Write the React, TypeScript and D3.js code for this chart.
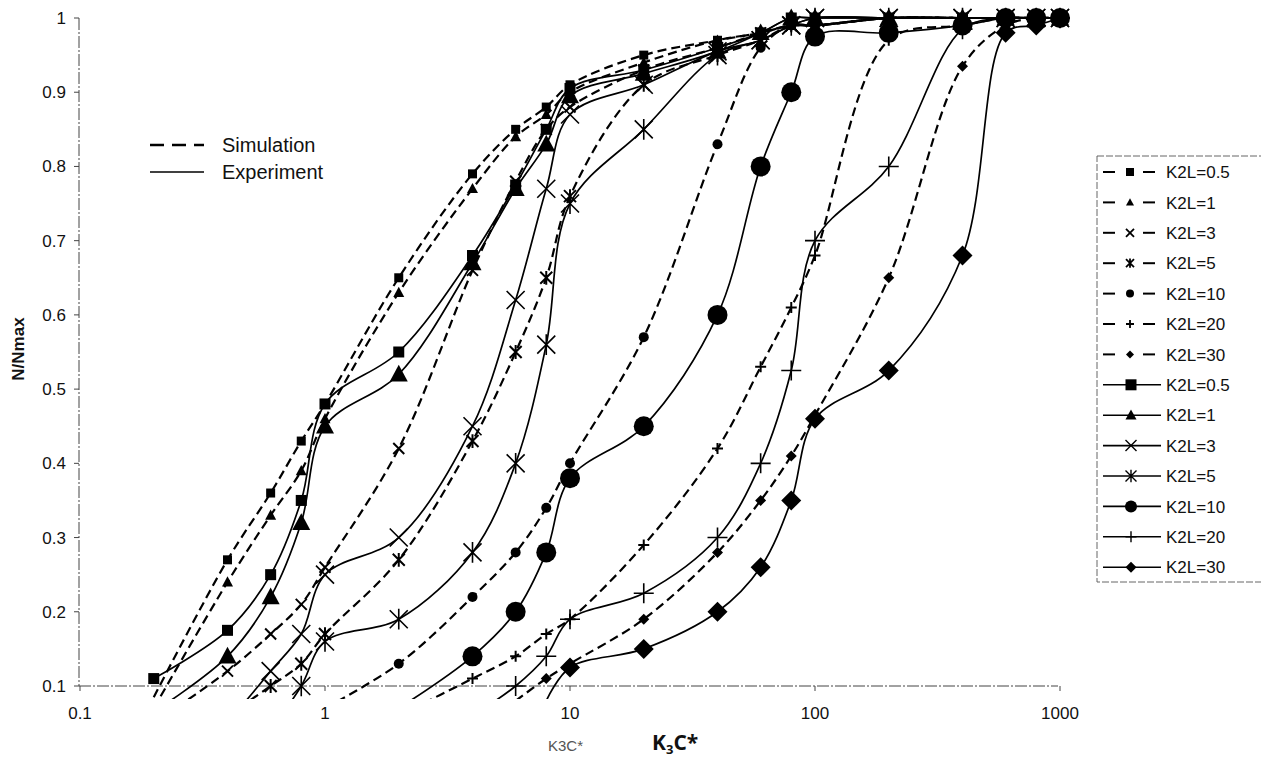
import React from 'react';
import * as d3 from 'd3';

const W = 1261;
const H = 757;
const FONT = '"Liberation Sans", Arial, sans-serif';

// K3C* values where the points sit (log axis)
const kValues = [0.2, 0.4, 0.6, 0.8, 1, 2, 4, 6, 8, 10, 20, 40, 60, 80, 100, 200, 400, 600, 800, 1000];

// simulation, N/Nmax (null = no point)
const simK05 = [0.085, 0.27, 0.36, 0.43, 0.48, 0.65, 0.79, 0.85, 0.88, 0.91, 0.95, 0.97, 0.98, 0.99, 0.99, 1.0, 1.0, 1.0, 1.0, 1.0];
const simK1 = [0.07, 0.24, 0.33, 0.39, 0.46, 0.63, 0.77, 0.84, 0.87, 0.9, 0.94, 0.97, 0.98, 0.99, 0.99, 1.0, 1.0, 1.0, 1.0, 1.0];
const simK3 = [0.05, 0.12, 0.17, 0.21, 0.26, 0.42, 0.66, 0.78, 0.85, 0.88, 0.93, 0.96, 0.98, 0.99, 0.99, 1.0, 1.0, 1.0, 1.0, 1.0];
const simK5 = [null, 0.06, 0.1, 0.13, 0.17, 0.27, 0.43, 0.55, 0.65, 0.76, 0.91, 0.95, 0.97, 0.99, 0.99, 1.0, 1.0, 1.0, 1.0, 1.0];
const simK10 = [null, null, null, null, 0.07, 0.13, 0.22, 0.28, 0.34, 0.4, 0.57, 0.83, 0.96, 0.99, 0.99, 1.0, 1.0, 1.0, 1.0, 1.0];
const simK20 = [null, null, null, null, null, 0.06, 0.11, 0.14, 0.17, 0.19, 0.29, 0.42, 0.53, 0.61, 0.68, 0.97, 0.99, 1.0, 1.0, 1.0];
const simK30 = [null, null, null, null, null, null, null, 0.08, 0.11, 0.13, 0.19, 0.28, 0.35, 0.41, 0.465, 0.65, 0.935, 0.99, 1.0, 1.0];

// experiment, N/Nmax
const expK05 = [0.11, 0.175, 0.25, 0.35, 0.48, 0.55, 0.68, 0.775, 0.85, 0.905, 0.93, 0.96, 0.98, 1.0, 1.0, 1.0, 1.0, 1.0, 1.0, 1.0];
const expK1 = [0.065, 0.14, 0.22, 0.32, 0.45, 0.52, 0.67, 0.77, 0.83, 0.895, 0.925, 0.955, 0.98, 1.0, 1.0, 1.0, 1.0, 1.0, 1.0, 1.0];
const expK3 = [null, 0.05, 0.12, 0.17, 0.25, 0.3, 0.45, 0.62, 0.77, 0.87, 0.91, 0.955, 0.97, 0.99, 1.0, 1.0, 1.0, 1.0, 1.0, 1.0];
const expK5 = [null, null, 0.04, 0.1, 0.16, 0.19, 0.28, 0.4, 0.56, 0.75, 0.85, 0.95, 0.97, 0.99, 1.0, 1.0, 1.0, 1.0, 1.0, 1.0];
const expK10 = [null, null, null, null, null, 0.07, 0.14, 0.2, 0.28, 0.38, 0.45, 0.6, 0.8, 0.9, 0.975, 0.98, 0.99, 1.0, 1.0, 1.0];
const expK20 = [null, null, null, null, null, null, 0.06, 0.1, 0.14, 0.19, 0.225, 0.3, 0.4, 0.525, 0.7, 0.8, 0.985, 1.0, 1.0, 1.0];
const expK30 = [null, null, null, null, null, null, null, null, 0.08, 0.125, 0.15, 0.2, 0.26, 0.35, 0.46, 0.525, 0.68, 0.98, 0.99, 1.0];

const seriesLabels = ['K2L=0.5', 'K2L=1', 'K2L=3', 'K2L=5', 'K2L=10', 'K2L=20', 'K2L=30'];
const markerTypes = ['square', 'triangle', 'cross', 'star', 'circle', 'plus', 'diamond'];
const simValues = [simK05, simK1, simK3, simK5, simK10, simK20, simK30];
const expValues = [expK05, expK1, expK3, expK5, expK10, expK20, expK30];

const yTicks = [0.1, 0.2, 0.3, 0.4, 0.5, 0.6, 0.7, 0.8, 0.9, 1];
const xTicks = [0.1, 1, 10, 100, 1000];

// marker sizes: [simulation, experiment]
const markerSize: Record<string, number[]> = {
  square: [9, 11],
  triangle: [11, 18],
  cross: [11, 18],
  star: [12, 18],
  circle: [10, 20],
  plus: [11, 20],
  diamond: [11, 20],
};

function Marker({ type, x, y, s, sw }: { type: string; x: number; y: number; s: number; sw: number }) {
  const h = s / 2;
  switch (type) {
    case 'square':
      return <rect x={x - h} y={y - h} width={s} height={s} fill="#000" />;
    case 'triangle':
      return <polygon points={`${x},${y - h * 1.05} ${x + h},${y + h * 0.8} ${x - h},${y + h * 0.8}`} fill="#000" />;
    case 'cross':
      return <path d={`M${x - h},${y - h}L${x + h},${y + h}M${x - h},${y + h}L${x + h},${y - h}`} stroke="#000" strokeWidth={sw} fill="none" />;
    case 'star':
      return <path d={`M${x - h},${y - h}L${x + h},${y + h}M${x - h},${y + h}L${x + h},${y - h}M${x},${y - h * 1.15}L${x},${y + h * 1.15}`} stroke="#000" strokeWidth={sw} fill="none" />;
    case 'circle':
      return <circle cx={x} cy={y} r={h} fill="#000" />;
    case 'plus':
      return <path d={`M${x - h},${y}L${x + h},${y}M${x},${y - h}L${x},${y + h}`} stroke="#000" strokeWidth={sw} fill="none" />;
    case 'diamond':
      return <polygon points={`${x},${y - h} ${x + h},${y} ${x},${y + h} ${x - h},${y}`} fill="#000" />;
    default:
      return null;
  }
}

export default function App() {
  const x = d3.scaleLog().domain([0.1, 1000]).range([80, 1060]);
  const y = d3.scaleLinear().domain([0.1, 1]).range([686, 18]);

  const line = d3
    .line<[number, number]>()
    .x((d) => x(d[0]))
    .y((d) => y(d[1]))
    .curve(d3.curveCatmullRom.alpha(0.5));

  const toPoints = (vals: (number | null)[]) =>
    kValues.map((k, i) => [k, vals[i]] as [number, number | null]).filter((d) => d[1] != null) as [number, number][];

  const legendRowY = (i: number) => 172 + i * 30.4;

  return (
    <svg width={W} height={H} style={{ position: 'absolute', left: 0, top: 0, background: '#fff' }} fontFamily={FONT}>
      <defs>
        <clipPath id="plotClip">
          <rect x={70} y={0} width={1010} height={699} />
        </clipPath>
      </defs>

      {/* axes */}
      <line x1={79} x2={79} y1={y(1)} y2={y(0.1)} stroke="#444" strokeWidth={1} strokeDasharray="12,2,2,2" />
      <line x1={79} x2={1058} y1={y(0.1)} y2={y(0.1)} stroke="#444" strokeWidth={1} strokeDasharray="12,2,2,2" />
      {yTicks.map((t) => (
        <g key={t}>
          <line x1={74} x2={79} y1={y(t)} y2={y(t)} stroke="#444" />
          <text x={66} y={y(t)} dy="0.35em" textAnchor="end" fontSize={17} fill="#111">
            {d3.format('~g')(t)}
          </text>
        </g>
      ))}
      {xTicks.map((t) => (
        <g key={t}>
          <line x1={x(t)} x2={x(t)} y1={686} y2={691} stroke="#444" />
          <text x={x(t)} y={719} textAnchor="middle" fontSize={17} fill="#111">
            {d3.format('~g')(t)}
          </text>
        </g>
      ))}

      {/* curves */}
      <g clipPath="url(#plotClip)">
        {simValues.map((vals, i) => (
          <path key={'s' + i} d={line(toPoints(vals)) || ''} fill="none" stroke="#000" strokeWidth={2.2} strokeDasharray="9,5" />
        ))}
        {expValues.map((vals, i) => (
          <path key={'e' + i} d={line(toPoints(vals)) || ''} fill="none" stroke="#000" strokeWidth={1.7} />
        ))}
        {simValues.map((vals, i) =>
          toPoints(vals)
            .filter((d) => d[1] >= 0.095)
            .map((d, j) => (
              <Marker key={`sm${i}-${j}`} type={markerTypes[i]} x={x(d[0])} y={y(d[1])} s={markerSize[markerTypes[i]][0]} sw={2} />
            ))
        )}
        {expValues.map((vals, i) =>
          toPoints(vals)
            .filter((d) => d[1] >= 0.095)
            .map((d, j) => (
              <Marker key={`em${i}-${j}`} type={markerTypes[i]} x={x(d[0])} y={y(d[1])} s={markerSize[markerTypes[i]][1]} sw={1.6} />
            ))
        )}
      </g>

      {/* style legend */}
      <line x1={150} x2={204} y1={145} y2={145} stroke="#000" strokeWidth={2.4} strokeDasharray="14,8" />
      <text x={222} y={152} fontSize={20} fill="#111">Simulation</text>
      <line x1={150} x2={204} y1={172} y2={172} stroke="#000" strokeWidth={1.4} />
      <text x={222} y={179} fontSize={20} fill="#111">Experiment</text>

      {/* series legend */}
      <rect x={1097} y={156} width={180} height={426} fill="none" stroke="#666" strokeWidth={1} strokeDasharray="7,2" />
      {seriesLabels.map((lab, i) => {
        const ly = legendRowY(i);
        return (
          <g key={'ls' + i}>
            <line x1={1103} x2={1115} y1={ly} y2={ly} stroke="#000" strokeWidth={2} />
            <line x1={1143} x2={1155} y1={ly} y2={ly} stroke="#000" strokeWidth={2} />
            <Marker type={markerTypes[i]} x={1130} y={ly} s={8} sw={1.8} />
            <text x={1166} y={ly} dy="0.36em" fontSize={17} fill="#111">{lab}</text>
          </g>
        );
      })}
      {seriesLabels.map((lab, i) => {
        const ly = legendRowY(i + 7);
        return (
          <g key={'le' + i}>
            <line x1={1103} x2={1161} y1={ly} y2={ly} stroke="#000" strokeWidth={1.6} />
            <Marker type={markerTypes[i]} x={1131} y={ly} s={markerTypes[i] === 'circle' ? 12 : 11} sw={1.4} />
            <text x={1166} y={ly} dy="0.36em" fontSize={17} fill="#111">{lab}</text>
          </g>
        );
      })}

      {/* axis titles */}
      <text transform="translate(24,349) rotate(-90)" textAnchor="middle" fontSize={17} fontWeight="bold" fill="#111">
        N/Nmax
      </text>
      <text x={548} y={751} fontSize={15} fill="#555">K3C*</text>
      <text x={652} y={750} fontSize={21} fontWeight="bold" fill="#111" fontFamily='"Open Sans", "Liberation Sans", sans-serif'>
        K<tspan fontSize={13} dy={4}>3</tspan><tspan dy={-4}>C*</tspan>
      </text>
    </svg>
  );
}
